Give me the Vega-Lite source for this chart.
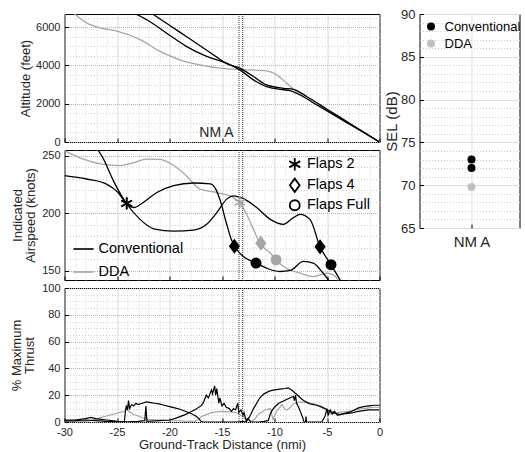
{
  "$schema": "https://vega.github.io/schema/vega-lite/v6.json",
  "padding": {"left": 9.5, "top": 1, "right": 0, "bottom": 3},
  "config": {
    "font": "Liberation Sans",
    "view": {"stroke": "#000000", "strokeWidth": 1},
    "axis": {"labelFont": "Liberation Sans", "labelFontSize": 11, "labelColor": "#262626", "titleFont": "Liberation Sans", "titleColor": "#262626", "titleFontSize": 13, "titleFontWeight": "normal", "titleLineHeight": 13, "domain": false, "tickColor": "#000000", "tickSize": -4, "labelPadding": 8.5, "labelFlush": false},
    "legend": {"padding": 0, "labelFont": "Liberation Sans", "labelColor": "#000000"}
  },
  "datasets": {
    "alt": [
      {"series": "DDA", "run": "D1", "dist": -30, "value": 7120},
      {"series": "DDA", "run": "D1", "dist": -29.63, "value": 6963},
      {"series": "DDA", "run": "D1", "dist": -27.9, "value": 6227},
      {"series": "DDA", "run": "D1", "dist": -26.6, "value": 5964},
      {"series": "DDA", "run": "D1", "dist": -25.0, "value": 5789},
      {"series": "DDA", "run": "D1", "dist": -22.8, "value": 5350},
      {"series": "DDA", "run": "D1", "dist": -20.9, "value": 4736},
      {"series": "DDA", "run": "D1", "dist": -19.0, "value": 4298},
      {"series": "DDA", "run": "D1", "dist": -17.1, "value": 4034},
      {"series": "DDA", "run": "D1", "dist": -15.2, "value": 3859},
      {"series": "DDA", "run": "D1", "dist": -13.9, "value": 3806},
      {"series": "DDA", "run": "D1", "dist": -12.65, "value": 3771},
      {"series": "DDA", "run": "D1", "dist": -10.75, "value": 3719},
      {"series": "DDA", "run": "D1", "dist": -9.79, "value": 3508},
      {"series": "DDA", "run": "D1", "dist": -8.84, "value": 3070},
      {"series": "DDA", "run": "D1", "dist": -7.9, "value": 2631},
      {"series": "DDA", "run": "D1", "dist": -6, "value": 1998},
      {"series": "DDA", "run": "D1", "dist": -4, "value": 1332},
      {"series": "DDA", "run": "D1", "dist": -2, "value": 666},
      {"series": "DDA", "run": "D1", "dist": 0, "value": 0},
      {"series": "Conventional", "run": "C1", "dist": -28, "value": 7250},
      {"series": "Conventional", "run": "C1", "dist": -26.6, "value": 7016},
      {"series": "Conventional", "run": "C1", "dist": -25.0, "value": 6841},
      {"series": "Conventional", "run": "C1", "dist": -23.4, "value": 6718},
      {"series": "Conventional", "run": "C1", "dist": -22.2, "value": 6402},
      {"series": "Conventional", "run": "C1", "dist": -20.3, "value": 5701},
      {"series": "Conventional", "run": "C1", "dist": -18.4, "value": 5000},
      {"series": "Conventional", "run": "C1", "dist": -16.46, "value": 4473},
      {"series": "Conventional", "run": "C1", "dist": -14.55, "value": 4122},
      {"series": "Conventional", "run": "C1", "dist": -13.3, "value": 3771},
      {"series": "Conventional", "run": "C1", "dist": -12.0, "value": 3245},
      {"series": "Conventional", "run": "C1", "dist": -10.75, "value": 2894},
      {"series": "Conventional", "run": "C1", "dist": -9.47, "value": 2754},
      {"series": "Conventional", "run": "C1", "dist": -8.5, "value": 2684},
      {"series": "Conventional", "run": "C1", "dist": -7.57, "value": 2456},
      {"series": "Conventional", "run": "C1", "dist": -6, "value": 1950},
      {"series": "Conventional", "run": "C1", "dist": -4, "value": 1300},
      {"series": "Conventional", "run": "C1", "dist": -2, "value": 650},
      {"series": "Conventional", "run": "C1", "dist": 0, "value": 0},
      {"series": "Conventional", "run": "C2", "dist": -23, "value": 7200},
      {"series": "Conventional", "run": "C2", "dist": -22.5, "value": 7016},
      {"series": "Conventional", "run": "C2", "dist": -20, "value": 6100},
      {"series": "Conventional", "run": "C2", "dist": -18, "value": 5370},
      {"series": "Conventional", "run": "C2", "dist": -16, "value": 4630},
      {"series": "Conventional", "run": "C2", "dist": -14.55, "value": 4090},
      {"series": "Conventional", "run": "C2", "dist": -13.3, "value": 3860},
      {"series": "Conventional", "run": "C2", "dist": -12.0, "value": 3420},
      {"series": "Conventional", "run": "C2", "dist": -10.75, "value": 2982},
      {"series": "Conventional", "run": "C2", "dist": -9.15, "value": 2807},
      {"series": "Conventional", "run": "C2", "dist": -8.2, "value": 2754},
      {"series": "Conventional", "run": "C2", "dist": -6.9, "value": 2368},
      {"series": "Conventional", "run": "C2", "dist": -5, "value": 1715},
      {"series": "Conventional", "run": "C2", "dist": -3, "value": 1030},
      {"series": "Conventional", "run": "C2", "dist": -1.5, "value": 515},
      {"series": "Conventional", "run": "C2", "dist": 0, "value": 0}
    ],
    "ias": [
      {"series": "DDA", "run": "D1", "dist": -30, "value": 254.5},
      {"series": "DDA", "run": "D1", "dist": -28.2, "value": 247},
      {"series": "DDA", "run": "D1", "dist": -26.6, "value": 243},
      {"series": "DDA", "run": "D1", "dist": -24.7, "value": 241.5},
      {"series": "DDA", "run": "D1", "dist": -23.4, "value": 244},
      {"series": "DDA", "run": "D1", "dist": -22.2, "value": 247},
      {"series": "DDA", "run": "D1", "dist": -20.9, "value": 246.8},
      {"series": "DDA", "run": "D1", "dist": -19.6, "value": 241.5},
      {"series": "DDA", "run": "D1", "dist": -18.4, "value": 232.7},
      {"series": "DDA", "run": "D1", "dist": -17.1, "value": 221},
      {"series": "DDA", "run": "D1", "dist": -15.5, "value": 218},
      {"series": "DDA", "run": "D1", "dist": -13.9, "value": 213.7},
      {"series": "DDA", "run": "D1", "dist": -13.3, "value": 209},
      {"series": "DDA", "run": "D1", "dist": -12.65, "value": 199},
      {"series": "DDA", "run": "D1", "dist": -12.0, "value": 186},
      {"series": "DDA", "run": "D1", "dist": -11.4, "value": 174},
      {"series": "DDA", "run": "D1", "dist": -10.4, "value": 165.5},
      {"series": "DDA", "run": "D1", "dist": -9.8, "value": 159},
      {"series": "DDA", "run": "D1", "dist": -8.84, "value": 152},
      {"series": "DDA", "run": "D1", "dist": -7.57, "value": 148},
      {"series": "DDA", "run": "D1", "dist": -6.3, "value": 145},
      {"series": "DDA", "run": "D1", "dist": -5.03, "value": 148},
      {"series": "DDA", "run": "D1", "dist": -4.4, "value": 146.5},
      {"series": "DDA", "run": "D1", "dist": -3.92, "value": 142},
      {"series": "DDA", "run": "D1", "dist": -3.7, "value": 138},
      {"series": "Conventional", "run": "C1", "dist": -30, "value": 232.7},
      {"series": "Conventional", "run": "C1", "dist": -27.9, "value": 229.8},
      {"series": "Conventional", "run": "C1", "dist": -26.0, "value": 225.4},
      {"series": "Conventional", "run": "C1", "dist": -24.9, "value": 218.1},
      {"series": "Conventional", "run": "C1", "dist": -24.1, "value": 208.5},
      {"series": "Conventional", "run": "C1", "dist": -23.4, "value": 205},
      {"series": "Conventional", "run": "C1", "dist": -22.5, "value": 209.4},
      {"series": "Conventional", "run": "C1", "dist": -21.2, "value": 218.1},
      {"series": "Conventional", "run": "C1", "dist": -19.6, "value": 224},
      {"series": "Conventional", "run": "C1", "dist": -17.7, "value": 226.3},
      {"series": "Conventional", "run": "C1", "dist": -16.1, "value": 225.5},
      {"series": "Conventional", "run": "C1", "dist": -15.6, "value": 221},
      {"series": "Conventional", "run": "C1", "dist": -15.2, "value": 212},
      {"series": "Conventional", "run": "C1", "dist": -14.6, "value": 192},
      {"series": "Conventional", "run": "C1", "dist": -14.1, "value": 177},
      {"series": "Conventional", "run": "C1", "dist": -13.8, "value": 171.3},
      {"series": "Conventional", "run": "C1", "dist": -13.0, "value": 162.6},
      {"series": "Conventional", "run": "C1", "dist": -11.76, "value": 156.7},
      {"series": "Conventional", "run": "C1", "dist": -10.75, "value": 152.3},
      {"series": "Conventional", "run": "C1", "dist": -9.5, "value": 149.4},
      {"series": "Conventional", "run": "C1", "dist": -8.5, "value": 150.3},
      {"series": "Conventional", "run": "C1", "dist": -7.25, "value": 158.2},
      {"series": "Conventional", "run": "C1", "dist": -6.3, "value": 156.7},
      {"series": "Conventional", "run": "C1", "dist": -5.5, "value": 149.4},
      {"series": "Conventional", "run": "C1", "dist": -4.87, "value": 142.1},
      {"series": "Conventional", "run": "C1", "dist": -4.5, "value": 137},
      {"series": "Conventional", "run": "C2", "dist": -27.5, "value": 265},
      {"series": "Conventional", "run": "C2", "dist": -27.1, "value": 259},
      {"series": "Conventional", "run": "C2", "dist": -26.3, "value": 247.4},
      {"series": "Conventional", "run": "C2", "dist": -25.35, "value": 228.4},
      {"series": "Conventional", "run": "C2", "dist": -24.1, "value": 208.5},
      {"series": "Conventional", "run": "C2", "dist": -22.8, "value": 194.7},
      {"series": "Conventional", "run": "C2", "dist": -21.5, "value": 186.5},
      {"series": "Conventional", "run": "C2", "dist": -19.6, "value": 184.5},
      {"series": "Conventional", "run": "C2", "dist": -17.7, "value": 185.4},
      {"series": "Conventional", "run": "C2", "dist": -16.46, "value": 190.4},
      {"series": "Conventional", "run": "C2", "dist": -15.5, "value": 200.6},
      {"series": "Conventional", "run": "C2", "dist": -14.55, "value": 212.3},
      {"series": "Conventional", "run": "C2", "dist": -13.9, "value": 215.2},
      {"series": "Conventional", "run": "C2", "dist": -13.0, "value": 212.9},
      {"series": "Conventional", "run": "C2", "dist": -11.7, "value": 205},
      {"series": "Conventional", "run": "C2", "dist": -10.4, "value": 194.7},
      {"series": "Conventional", "run": "C2", "dist": -9.15, "value": 190.4},
      {"series": "Conventional", "run": "C2", "dist": -8.2, "value": 196.2},
      {"series": "Conventional", "run": "C2", "dist": -7.57, "value": 199.1},
      {"series": "Conventional", "run": "C2", "dist": -6.62, "value": 194.7},
      {"series": "Conventional", "run": "C2", "dist": -5.66, "value": 170.8},
      {"series": "Conventional", "run": "C2", "dist": -4.62, "value": 155.3},
      {"series": "Conventional", "run": "C2", "dist": -3.76, "value": 142.1},
      {"series": "Conventional", "run": "C2", "dist": -3.4, "value": 136}
    ],
    "flaps": [
      {"series": "Conventional", "flap": "Flaps 2", "dist": -24.1, "value": 208.5},
      {"series": "Conventional", "flap": "Flaps 2", "dist": -24.05, "value": 208.7},
      {"series": "Conventional", "flap": "Flaps 4", "dist": -13.82, "value": 171.3},
      {"series": "Conventional", "flap": "Flaps 4", "dist": -5.66, "value": 170.8},
      {"series": "Conventional", "flap": "Flaps Full", "dist": -11.76, "value": 156.7},
      {"series": "Conventional", "flap": "Flaps Full", "dist": -4.62, "value": 155.3},
      {"series": "DDA", "flap": "Flaps 2", "dist": -13.3, "value": 209.5},
      {"series": "DDA", "flap": "Flaps 4", "dist": -11.3, "value": 174},
      {"series": "DDA", "flap": "Flaps Full", "dist": -9.85, "value": 159.6}
    ],
    "thr": [
      {"series": "DDA", "run": "D1", "dist": -30, "value": 0.5},
      {"series": "DDA", "run": "D1", "dist": -28, "value": 0.5},
      {"series": "DDA", "run": "D1", "dist": -27.5, "value": 1},
      {"series": "DDA", "run": "D1", "dist": -27, "value": 2},
      {"series": "DDA", "run": "D1", "dist": -26.5, "value": 3.5},
      {"series": "DDA", "run": "D1", "dist": -26, "value": 4.5},
      {"series": "DDA", "run": "D1", "dist": -25.5, "value": 5.5},
      {"series": "DDA", "run": "D1", "dist": -25, "value": 6.5},
      {"series": "DDA", "run": "D1", "dist": -24.5, "value": 7.5},
      {"series": "DDA", "run": "D1", "dist": -24.2, "value": 8.5},
      {"series": "DDA", "run": "D1", "dist": -24.1, "value": 13},
      {"series": "DDA", "run": "D1", "dist": -24.0, "value": 8.5},
      {"series": "DDA", "run": "D1", "dist": -23.5, "value": 6},
      {"series": "DDA", "run": "D1", "dist": -23, "value": 4.5},
      {"series": "DDA", "run": "D1", "dist": -22.5, "value": 3},
      {"series": "DDA", "run": "D1", "dist": -22, "value": 2},
      {"series": "DDA", "run": "D1", "dist": -21, "value": 1.5},
      {"series": "DDA", "run": "D1", "dist": -20, "value": 1},
      {"series": "DDA", "run": "D1", "dist": -19, "value": 0.8},
      {"series": "DDA", "run": "D1", "dist": -18, "value": 0.5},
      {"series": "DDA", "run": "D1", "dist": -17.6, "value": 0.5},
      {"series": "DDA", "run": "D1", "dist": -17.2, "value": 2},
      {"series": "DDA", "run": "D1", "dist": -17.0, "value": 4},
      {"series": "DDA", "run": "D1", "dist": -16.5, "value": 5.5},
      {"series": "DDA", "run": "D1", "dist": -16.0, "value": 7},
      {"series": "DDA", "run": "D1", "dist": -15.5, "value": 7.5},
      {"series": "DDA", "run": "D1", "dist": -15.0, "value": 8},
      {"series": "DDA", "run": "D1", "dist": -14.5, "value": 7.5},
      {"series": "DDA", "run": "D1", "dist": -14.0, "value": 7.5},
      {"series": "DDA", "run": "D1", "dist": -13.5, "value": 6.5},
      {"series": "DDA", "run": "D1", "dist": -13.0, "value": 4},
      {"series": "DDA", "run": "D1", "dist": -12.6, "value": 2},
      {"series": "DDA", "run": "D1", "dist": -12.2, "value": 0.5},
      {"series": "DDA", "run": "D1", "dist": -11.9, "value": 2},
      {"series": "DDA", "run": "D1", "dist": -11.5, "value": 6},
      {"series": "DDA", "run": "D1", "dist": -10.9, "value": 9},
      {"series": "DDA", "run": "D1", "dist": -10.4, "value": 10},
      {"series": "DDA", "run": "D1", "dist": -10.15, "value": 2},
      {"series": "DDA", "run": "D1", "dist": -9.8, "value": 8},
      {"series": "DDA", "run": "D1", "dist": -9.5, "value": 11},
      {"series": "DDA", "run": "D1", "dist": -9.3, "value": 13},
      {"series": "DDA", "run": "D1", "dist": -9.0, "value": 9.5},
      {"series": "DDA", "run": "D1", "dist": -8.8, "value": 9},
      {"series": "DDA", "run": "D1", "dist": -8.5, "value": 11},
      {"series": "DDA", "run": "D1", "dist": -8.2, "value": 13.5},
      {"series": "DDA", "run": "D1", "dist": -7.6, "value": 15},
      {"series": "DDA", "run": "D1", "dist": -7.0, "value": 14.5},
      {"series": "DDA", "run": "D1", "dist": -6.3, "value": 13.8},
      {"series": "DDA", "run": "D1", "dist": -5.7, "value": 12},
      {"series": "DDA", "run": "D1", "dist": -5.3, "value": 10.5},
      {"series": "DDA", "run": "D1", "dist": -5.0, "value": 8.8},
      {"series": "DDA", "run": "D1", "dist": -4.8, "value": 6},
      {"series": "DDA", "run": "D1", "dist": -4.4, "value": 6},
      {"series": "DDA", "run": "D1", "dist": -4.0, "value": 7},
      {"series": "DDA", "run": "D1", "dist": -3.5, "value": 7.5},
      {"series": "DDA", "run": "D1", "dist": -3.0, "value": 8},
      {"series": "DDA", "run": "D1", "dist": -2.5, "value": 8.5},
      {"series": "DDA", "run": "D1", "dist": -2.0, "value": 9.5},
      {"series": "DDA", "run": "D1", "dist": -1.5, "value": 10},
      {"series": "DDA", "run": "D1", "dist": -1.0, "value": 10.5},
      {"series": "DDA", "run": "D1", "dist": -0.5, "value": 11},
      {"series": "DDA", "run": "D1", "dist": 0, "value": 11},
      {"series": "Conventional", "run": "C1", "dist": -30, "value": 0.8},
      {"series": "Conventional", "run": "C1", "dist": -29, "value": 1},
      {"series": "Conventional", "run": "C1", "dist": -28, "value": 1.5},
      {"series": "Conventional", "run": "C1", "dist": -27, "value": 1},
      {"series": "Conventional", "run": "C1", "dist": -26, "value": 0.5},
      {"series": "Conventional", "run": "C1", "dist": -25, "value": 0.3},
      {"series": "Conventional", "run": "C1", "dist": -24.3, "value": 0.2},
      {"series": "Conventional", "run": "C1", "dist": -24.2, "value": 8},
      {"series": "Conventional", "run": "C1", "dist": -24.1, "value": 12},
      {"series": "Conventional", "run": "C1", "dist": -24.0, "value": 9},
      {"series": "Conventional", "run": "C1", "dist": -23.9, "value": 16},
      {"series": "Conventional", "run": "C1", "dist": -23.8, "value": 10},
      {"series": "Conventional", "run": "C1", "dist": -23.6, "value": 13},
      {"series": "Conventional", "run": "C1", "dist": -23.4, "value": 12},
      {"series": "Conventional", "run": "C1", "dist": -23.2, "value": 14},
      {"series": "Conventional", "run": "C1", "dist": -23.0, "value": 13},
      {"series": "Conventional", "run": "C1", "dist": -22.6, "value": 14},
      {"series": "Conventional", "run": "C1", "dist": -22.2, "value": 15},
      {"series": "Conventional", "run": "C1", "dist": -21.8, "value": 14.5},
      {"series": "Conventional", "run": "C1", "dist": -21.4, "value": 14},
      {"series": "Conventional", "run": "C1", "dist": -21.0, "value": 13.5},
      {"series": "Conventional", "run": "C1", "dist": -20.5, "value": 12.5},
      {"series": "Conventional", "run": "C1", "dist": -20.0, "value": 11.5},
      {"series": "Conventional", "run": "C1", "dist": -19.5, "value": 10.5},
      {"series": "Conventional", "run": "C1", "dist": -19.0, "value": 9.5},
      {"series": "Conventional", "run": "C1", "dist": -18.5, "value": 8},
      {"series": "Conventional", "run": "C1", "dist": -18.0, "value": 6.5},
      {"series": "Conventional", "run": "C1", "dist": -17.5, "value": 4.5},
      {"series": "Conventional", "run": "C1", "dist": -17.2, "value": 2.5},
      {"series": "Conventional", "run": "C1", "dist": -17.0, "value": 0.5},
      {"series": "Conventional", "run": "C1", "dist": -16.8, "value": 0},
      {"series": "Conventional", "run": "C1", "dist": -13.5, "value": 0},
      {"series": "Conventional", "run": "C1", "dist": -13.0, "value": 0.5},
      {"series": "Conventional", "run": "C1", "dist": -12.8, "value": 0},
      {"series": "Conventional", "run": "C1", "dist": -12.6, "value": 1},
      {"series": "Conventional", "run": "C1", "dist": -12.3, "value": 5},
      {"series": "Conventional", "run": "C1", "dist": -12.0, "value": 10},
      {"series": "Conventional", "run": "C1", "dist": -11.7, "value": 14},
      {"series": "Conventional", "run": "C1", "dist": -11.4, "value": 18},
      {"series": "Conventional", "run": "C1", "dist": -11.0, "value": 21},
      {"series": "Conventional", "run": "C1", "dist": -10.5, "value": 23},
      {"series": "Conventional", "run": "C1", "dist": -10.0, "value": 24},
      {"series": "Conventional", "run": "C1", "dist": -9.5, "value": 24.5},
      {"series": "Conventional", "run": "C1", "dist": -9.0, "value": 25},
      {"series": "Conventional", "run": "C1", "dist": -8.7, "value": 25.5},
      {"series": "Conventional", "run": "C1", "dist": -8.4, "value": 24},
      {"series": "Conventional", "run": "C1", "dist": -8.1, "value": 22},
      {"series": "Conventional", "run": "C1", "dist": -7.8, "value": 20},
      {"series": "Conventional", "run": "C1", "dist": -7.4, "value": 17},
      {"series": "Conventional", "run": "C1", "dist": -7.0, "value": 15},
      {"series": "Conventional", "run": "C1", "dist": -6.6, "value": 13.5},
      {"series": "Conventional", "run": "C1", "dist": -6.0, "value": 12.5},
      {"series": "Conventional", "run": "C1", "dist": -5.6, "value": 11.5},
      {"series": "Conventional", "run": "C1", "dist": -5.2, "value": 10},
      {"series": "Conventional", "run": "C1", "dist": -4.8, "value": 8},
      {"series": "Conventional", "run": "C1", "dist": -4.4, "value": 7},
      {"series": "Conventional", "run": "C1", "dist": -4.0, "value": 6},
      {"series": "Conventional", "run": "C1", "dist": -3.7, "value": 5.5},
      {"series": "Conventional", "run": "C1", "dist": -3.3, "value": 6.5},
      {"series": "Conventional", "run": "C1", "dist": -2.8, "value": 7.5},
      {"series": "Conventional", "run": "C1", "dist": -2.4, "value": 9},
      {"series": "Conventional", "run": "C1", "dist": -2.0, "value": 10.5},
      {"series": "Conventional", "run": "C1", "dist": -1.5, "value": 11.5},
      {"series": "Conventional", "run": "C1", "dist": -1.0, "value": 12},
      {"series": "Conventional", "run": "C1", "dist": -0.5, "value": 12.5},
      {"series": "Conventional", "run": "C1", "dist": 0, "value": 12.5},
      {"series": "Conventional", "run": "C2", "dist": -30, "value": 1.5},
      {"series": "Conventional", "run": "C2", "dist": -29, "value": 1.5},
      {"series": "Conventional", "run": "C2", "dist": -28, "value": 2.5},
      {"series": "Conventional", "run": "C2", "dist": -27.5, "value": 3.5},
      {"series": "Conventional", "run": "C2", "dist": -27, "value": 2.5},
      {"series": "Conventional", "run": "C2", "dist": -26.5, "value": 2},
      {"series": "Conventional", "run": "C2", "dist": -26, "value": 1.5},
      {"series": "Conventional", "run": "C2", "dist": -25.5, "value": 1},
      {"series": "Conventional", "run": "C2", "dist": -25, "value": 0.5},
      {"series": "Conventional", "run": "C2", "dist": -24, "value": 0.2},
      {"series": "Conventional", "run": "C2", "dist": -23, "value": 0.5},
      {"series": "Conventional", "run": "C2", "dist": -22.35, "value": 1},
      {"series": "Conventional", "run": "C2", "dist": -22.25, "value": 12},
      {"series": "Conventional", "run": "C2", "dist": -22.15, "value": 0.5},
      {"series": "Conventional", "run": "C2", "dist": -21, "value": 1},
      {"series": "Conventional", "run": "C2", "dist": -20, "value": 1.5},
      {"series": "Conventional", "run": "C2", "dist": -19.5, "value": 2.5},
      {"series": "Conventional", "run": "C2", "dist": -19, "value": 4},
      {"series": "Conventional", "run": "C2", "dist": -18.5, "value": 5.5},
      {"series": "Conventional", "run": "C2", "dist": -18, "value": 7.5},
      {"series": "Conventional", "run": "C2", "dist": -17.5, "value": 9.5},
      {"series": "Conventional", "run": "C2", "dist": -17, "value": 12},
      {"series": "Conventional", "run": "C2", "dist": -16.8, "value": 14},
      {"series": "Conventional", "run": "C2", "dist": -16.5, "value": 20},
      {"series": "Conventional", "run": "C2", "dist": -16.3, "value": 18},
      {"series": "Conventional", "run": "C2", "dist": -16.0, "value": 24},
      {"series": "Conventional", "run": "C2", "dist": -15.9, "value": 21},
      {"series": "Conventional", "run": "C2", "dist": -15.7, "value": 27},
      {"series": "Conventional", "run": "C2", "dist": -15.6, "value": 20},
      {"series": "Conventional", "run": "C2", "dist": -15.5, "value": 25},
      {"series": "Conventional", "run": "C2", "dist": -15.3, "value": 14},
      {"series": "Conventional", "run": "C2", "dist": -15.2, "value": 18},
      {"series": "Conventional", "run": "C2", "dist": -15.0, "value": 12},
      {"series": "Conventional", "run": "C2", "dist": -14.8, "value": 14},
      {"series": "Conventional", "run": "C2", "dist": -14.6, "value": 11},
      {"series": "Conventional", "run": "C2", "dist": -14.3, "value": 10},
      {"series": "Conventional", "run": "C2", "dist": -14.1, "value": 8},
      {"series": "Conventional", "run": "C2", "dist": -13.9, "value": 10},
      {"series": "Conventional", "run": "C2", "dist": -13.7, "value": 9},
      {"series": "Conventional", "run": "C2", "dist": -13.5, "value": 14},
      {"series": "Conventional", "run": "C2", "dist": -13.4, "value": 7},
      {"series": "Conventional", "run": "C2", "dist": -13.2, "value": 9},
      {"series": "Conventional", "run": "C2", "dist": -13.0, "value": 5},
      {"series": "Conventional", "run": "C2", "dist": -12.9, "value": 7},
      {"series": "Conventional", "run": "C2", "dist": -12.7, "value": 1},
      {"series": "Conventional", "run": "C2", "dist": -12.5, "value": 3},
      {"series": "Conventional", "run": "C2", "dist": -12.3, "value": 0},
      {"series": "Conventional", "run": "C2", "dist": -11.5, "value": 0},
      {"series": "Conventional", "run": "C2", "dist": -11, "value": 0.5},
      {"series": "Conventional", "run": "C2", "dist": -10.6, "value": 1},
      {"series": "Conventional", "run": "C2", "dist": -10.4, "value": 6},
      {"series": "Conventional", "run": "C2", "dist": -10.2, "value": 9},
      {"series": "Conventional", "run": "C2", "dist": -10.0, "value": 11},
      {"series": "Conventional", "run": "C2", "dist": -9.6, "value": 14},
      {"series": "Conventional", "run": "C2", "dist": -9.2, "value": 15.5},
      {"series": "Conventional", "run": "C2", "dist": -8.8, "value": 17},
      {"series": "Conventional", "run": "C2", "dist": -8.4, "value": 18.5},
      {"series": "Conventional", "run": "C2", "dist": -8.2, "value": 19},
      {"series": "Conventional", "run": "C2", "dist": -8.1, "value": 16},
      {"series": "Conventional", "run": "C2", "dist": -8.0, "value": 20},
      {"series": "Conventional", "run": "C2", "dist": -7.9, "value": 14},
      {"series": "Conventional", "run": "C2", "dist": -7.7, "value": 11},
      {"series": "Conventional", "run": "C2", "dist": -7.5, "value": 7},
      {"series": "Conventional", "run": "C2", "dist": -7.3, "value": 3},
      {"series": "Conventional", "run": "C2", "dist": -7.2, "value": 0},
      {"series": "Conventional", "run": "C2", "dist": -7.05, "value": 0},
      {"series": "Conventional", "run": "C2", "dist": -7.0, "value": 4},
      {"series": "Conventional", "run": "C2", "dist": -6.95, "value": 0},
      {"series": "Conventional", "run": "C2", "dist": -5.5, "value": 0},
      {"series": "Conventional", "run": "C2", "dist": -5.2, "value": 4},
      {"series": "Conventional", "run": "C2", "dist": -5.0, "value": 10},
      {"series": "Conventional", "run": "C2", "dist": -4.9, "value": 5},
      {"series": "Conventional", "run": "C2", "dist": -4.7, "value": 9},
      {"series": "Conventional", "run": "C2", "dist": -4.5, "value": 6},
      {"series": "Conventional", "run": "C2", "dist": -4.3, "value": 8},
      {"series": "Conventional", "run": "C2", "dist": -4.0, "value": 5},
      {"series": "Conventional", "run": "C2", "dist": -3.5, "value": 6},
      {"series": "Conventional", "run": "C2", "dist": -3.0, "value": 6.5},
      {"series": "Conventional", "run": "C2", "dist": -2.5, "value": 7},
      {"series": "Conventional", "run": "C2", "dist": -2.0, "value": 8},
      {"series": "Conventional", "run": "C2", "dist": -1.5, "value": 8.5},
      {"series": "Conventional", "run": "C2", "dist": -1.0, "value": 9},
      {"series": "Conventional", "run": "C2", "dist": -0.5, "value": 9},
      {"series": "Conventional", "run": "C2", "dist": 0, "value": 9}
    ],
    "nm": [{"dist": -13.38}, {"dist": -13.03}],
    "nmlabel": [{"dist": -13.9, "value": 260, "label": "NM A"}],
    "sel": [
      {"site": "NM A", "series": "Conventional", "sel": 73},
      {"site": "NM A", "series": "Conventional", "sel": 72},
      {"site": "NM A", "series": "DDA", "sel": 69.8}
    ]
  },
  "spacing": 0,
  "columns": 2,
  "align": "none",
  "bounds": "full",
  "resolve": {"scale": {"color": "independent", "shape": "independent", "fill": "independent", "stroke": "independent"}},
  "concat": [
    {
      "vconcat": [
        {
          "width": 315, "height": 128,
          "resolve": {"axis": {"x": "independent", "y": "independent"}},
          "layer": [
            {
              "data": {"name": "alt"},
              "transform": [{"filter": "datum.series === 'DDA'"}],
              "mark": {"type": "line", "interpolate": "monotone", "strokeWidth": 1.3, "clip": true},
              "encoding": {
                "x": {"field": "dist", "type": "quantitative", "scale": {"domain": [-30, 0], "nice": false},
                  "axis": {"orient": "bottom", "values": [-30,-25,-20,-15,-10,-5,0], "labels": false, "title": null, "grid": true, "gridDash": [1, 1], "gridColor": "#b5b5b5"}},
                "y": {"field": "value", "type": "quantitative", "scale": {"domain": [0, 6690], "nice": false},
                  "axis": {"orient": "left", "values": [0, 2000, 4000, 6000], "title": "Altitude (feet)", "titlePadding": 3, "grid": true, "gridDash": [1, 1], "gridColor": "#b5b5b5", "labelExpr": "'' + datum.value"}},
                "detail": {"field": "run"},
                "color": {"field": "series", "type": "nominal", "scale": {"domain": ["Conventional", "DDA"], "range": ["#000000", "#a6a6a6"]}, "legend": null}
              }
            },
            {
              "data": {"name": "alt"},
              "transform": [{"filter": "datum.series === 'Conventional'"}],
              "mark": {"type": "line", "interpolate": "monotone", "strokeWidth": 1.3, "clip": true},
              "encoding": {
                "x": {"field": "dist", "type": "quantitative",
                  "axis": {"orient": "top", "values": [-29,-28,-27,-26,-24,-23,-22,-21,-19,-18,-17,-16,-14,-13,-12,-11,-9,-8,-7,-6,-4,-3,-2,-1], "labels": false, "ticks": false, "title": null, "grid": true, "gridDash": [1, 2], "gridColor": "#cfcfcf", "labelPadding": 0, "tickSize": 0}},
                "y": {"field": "value", "type": "quantitative",
                  "axis": {"orient": "right", "values": [500,1000,1500,2500,3000,3500,4500,5000,5500,6500], "labels": false, "ticks": false, "title": null, "grid": true, "gridDash": [1, 2], "gridColor": "#cfcfcf", "labelPadding": 0, "tickSize": 0}},
                "detail": {"field": "run"},
                "color": {"field": "series", "type": "nominal", "scale": {"domain": ["Conventional", "DDA"], "range": ["#000000", "#a6a6a6"]}, "legend": null}
              }
            },
            {
              "data": {"name": "nm"},
              "mark": {"type": "rule", "strokeDash": [1, 1], "color": "#333333", "strokeWidth": 1},
              "encoding": {"x": {"field": "dist", "type": "quantitative", "axis": null}}
            },
            {
              "data": {"name": "nmlabel"},
              "mark": {"type": "text", "align": "right", "baseline": "alphabetic", "fontSize": 14, "color": "#262626", "font": "Liberation Sans"},
              "encoding": {
                "x": {"field": "dist", "type": "quantitative", "axis": null},
                "y": {"field": "value", "type": "quantitative", "axis": null},
                "text": {"field": "label"}
              }
            }
          ]
        },
        {
          "width": 315, "height": 130,
          "resolve": {"axis": {"x": "independent", "y": "independent"}},
          "layer": [
            {
              "data": {"name": "ias"},
              "transform": [{"filter": "datum.series === 'DDA'"}],
              "mark": {"type": "line", "interpolate": "monotone", "strokeWidth": 1.3, "clip": true},
              "encoding": {
                "x": {"field": "dist", "type": "quantitative", "scale": {"domain": [-30, 0], "nice": false},
                  "axis": {"orient": "bottom", "values": [-30,-25,-20,-15,-10,-5,0], "labels": false, "title": null, "grid": true, "gridDash": [1, 1], "gridColor": "#b5b5b5"}},
                "y": {"field": "value", "type": "quantitative", "scale": {"domain": [142, 255], "nice": false, "zero": false},
                  "axis": {"orient": "left", "values": [150, 200, 250], "title": ["Indicated", "Airspeed (knots)"], "titlePadding": 4, "grid": true, "gridDash": [1, 1], "gridColor": "#b5b5b5", "labelExpr": "'' + datum.value"}},
                "detail": {"field": "run"},
                "color": {"field": "series", "type": "nominal", "scale": {"domain": ["Conventional", "DDA"], "range": ["#000000", "#a6a6a6"]},
                  "legend": {"orient": "none", "legendX": 8, "legendY": 88, "title": null, "symbolType": "stroke", "symbolSize": 400, "symbolStrokeWidth": 1.6, "labelFontSize": 14.5, "labelOffset": 4, "rowPadding": 5}}
              }
            },
            {
              "data": {"name": "ias"},
              "transform": [{"filter": "datum.series === 'Conventional'"}],
              "mark": {"type": "line", "interpolate": "monotone", "strokeWidth": 1.3, "clip": true},
              "encoding": {
                "x": {"field": "dist", "type": "quantitative",
                  "axis": {"orient": "top", "values": [-29,-28,-27,-26,-24,-23,-22,-21,-19,-18,-17,-16,-14,-13,-12,-11,-9,-8,-7,-6,-4,-3,-2,-1], "labels": false, "ticks": false, "title": null, "grid": true, "gridDash": [1, 2], "gridColor": "#cfcfcf", "labelPadding": 0, "tickSize": 0}},
                "y": {"field": "value", "type": "quantitative",
                  "axis": {"orient": "right", "values": [160,170,180,190,210,220,230,240], "labels": false, "ticks": false, "title": null, "grid": true, "gridDash": [1, 2], "gridColor": "#cfcfcf", "labelPadding": 0, "tickSize": 0}},
                "detail": {"field": "run"},
                "color": {"field": "series", "type": "nominal", "scale": {"domain": ["Conventional", "DDA"], "range": ["#000000", "#a6a6a6"]},
                  "legend": {"orient": "none", "legendX": 8, "legendY": 88, "title": null, "symbolType": "stroke", "symbolSize": 400, "symbolStrokeWidth": 1.6, "labelFontSize": 14.5, "labelOffset": 4, "rowPadding": 5}}
              }
            },
            {
              "data": {"name": "nm"},
              "mark": {"type": "rule", "strokeDash": [1, 1], "color": "#333333", "strokeWidth": 1},
              "encoding": {"x": {"field": "dist", "type": "quantitative", "axis": null}}
            },
            {
              "data": {"name": "flaps"},
              "mark": {"type": "point", "filled": true, "size": 90, "strokeWidth": 1.5, "opacity": 1},
              "encoding": {
                "x": {"field": "dist", "type": "quantitative", "axis": null},
                "y": {"field": "value", "type": "quantitative", "axis": null},
                "shape": {"field": "flap", "type": "nominal",
                  "scale": {"domain": ["Flaps 2", "Flaps 4", "Flaps Full"], "range": ["M0,-1.27L0,1.27M-1.1,-0.63L1.1,0.63M-1.1,0.63L1.1,-0.63", "M0,-1.33L0.98,0L0,1.33L-0.98,0Z", "circle"]},
                  "legend": {"orient": "none", "legendX": 223, "legendY": 7, "title": null, "symbolSize": 100, "labelFontSize": 14.5, "labelOffset": 5, "rowPadding": 0,
                    "symbolFillColor": "#ffffff", "symbolStrokeColor": "#000000", "symbolStrokeWidth": 1.8, "symbolOpacity": 1}},
                "fill": {"field": "series", "type": "nominal", "scale": {"domain": ["Conventional", "DDA"], "range": ["#000000", "#a6a6a6"]}, "legend": null},
                "stroke": {"field": "series", "type": "nominal", "scale": {"domain": ["Conventional", "DDA"], "range": ["#000000", "#a6a6a6"]}, "legend": null}
              }
            }
          ]
        },
        {
          "width": 315, "height": 134,
          "resolve": {"axis": {"x": "independent", "y": "independent"}},
          "layer": [
            {
              "data": {"name": "thr"},
              "transform": [{"filter": "datum.series === 'DDA'"}],
              "mark": {"type": "line", "strokeWidth": 1.2, "clip": true},
              "encoding": {
                "x": {"field": "dist", "type": "quantitative", "scale": {"domain": [-30, 0], "nice": false},
                  "axis": {"orient": "bottom", "values": [-30,-25,-20,-15,-10,-5,0], "title": "Ground-Track Distance (nmi)", "titlePadding": 1, "grid": true, "gridDash": [1, 1], "gridColor": "#b5b5b5", "labelExpr": "'' + datum.value"}},
                "y": {"field": "value", "type": "quantitative", "scale": {"domain": [0, 100], "nice": false},
                  "axis": {"orient": "left", "values": [0, 20, 40, 60, 80, 100], "title": ["% Maximum", "Thrust"], "titlePadding": 5, "grid": true, "gridDash": [1, 1], "gridColor": "#b5b5b5", "labelExpr": "'' + datum.value"}},
                "detail": {"field": "run"},
                "color": {"field": "series", "type": "nominal", "scale": {"domain": ["Conventional", "DDA"], "range": ["#000000", "#a6a6a6"]}, "legend": null}
              }
            },
            {
              "data": {"name": "thr"},
              "transform": [{"filter": "datum.series === 'Conventional'"}],
              "mark": {"type": "line", "strokeWidth": 1.2, "clip": true},
              "encoding": {
                "x": {"field": "dist", "type": "quantitative",
                  "axis": {"orient": "top", "values": [-29,-28,-27,-26,-24,-23,-22,-21,-19,-18,-17,-16,-14,-13,-12,-11,-9,-8,-7,-6,-4,-3,-2,-1], "labels": false, "ticks": false, "title": null, "grid": true, "gridDash": [1, 2], "gridColor": "#cfcfcf", "labelPadding": 0, "tickSize": 0}},
                "y": {"field": "value", "type": "quantitative",
                  "axis": {"orient": "right", "values": [5,10,15,25,30,35,45,50,55,65,70,75,85,90,95], "labels": false, "ticks": false, "title": null, "grid": true, "gridDash": [1, 2], "gridColor": "#cfcfcf", "labelPadding": 0, "tickSize": 0}},
                "detail": {"field": "run"},
                "color": {"field": "series", "type": "nominal", "scale": {"domain": ["Conventional", "DDA"], "range": ["#000000", "#a6a6a6"]}, "legend": null}
              }
            },
            {
              "data": {"name": "nm"},
              "mark": {"type": "rule", "strokeDash": [1, 1], "color": "#333333", "strokeWidth": 1},
              "encoding": {"x": {"field": "dist", "type": "quantitative", "axis": null}}
            }
          ]
        }
      ],
      "spacing": 8,
      "bounds": "flush",
      "resolve": {"scale": {"color": "independent", "shape": "independent", "fill": "independent", "stroke": "independent"}}
    },
    {
      "width": 100, "height": 214,
      "title": {"text": " ", "fontSize": 1, "offset": 5},
      "resolve": {"axis": {"x": "independent", "y": "independent"}},
      "layer": [
        {
          "data": {"name": "sel"},
          "transform": [{"filter": "datum.series === 'Conventional'"}],
          "mark": {"type": "point", "filled": true, "size": 64, "opacity": 1},
          "encoding": {
            "x": {"field": "site", "type": "nominal", "scale": {"type": "point", "align": 0.52},
              "axis": {"orient": "bottom", "title": null, "labelAngle": 0, "labelFontSize": 15, "grid": true, "gridColor": "#dddddd", "tickSize": -4, "labelPadding": 10}},
            "y": {"field": "sel", "type": "quantitative", "scale": {"domain": [65, 90], "nice": false, "zero": false},
              "axis": {"orient": "left", "values": [65, 70, 75, 80, 85, 90], "title": "SEL (dB)", "titleFontSize": 15, "titlePadding": 1, "labelFontSize": 13, "grid": true, "gridColor": "#dddddd", "labelExpr": "'' + datum.value"}},
            "color": {"field": "series", "type": "nominal", "scale": {"domain": ["Conventional", "DDA"], "range": ["#000000", "#c0c0c0"]},
              "legend": {"orient": "none", "legendX": 5, "legendY": 6, "title": null, "symbolType": "circle", "symbolSize": 64, "labelFontSize": 13, "labelOffset": 7, "rowPadding": 3}}
          }
        },
        {
          "data": {"name": "sel"},
          "transform": [{"filter": "datum.series === 'DDA'"}],
          "mark": {"type": "point", "filled": true, "size": 64, "opacity": 1},
          "encoding": {
            "x": {"field": "site", "type": "nominal", "axis": null},
            "y": {"field": "sel", "type": "quantitative",
              "axis": {"orient": "right", "values": [66,67,68,69,71,72,73,74,76,77,78,79,81,82,83,84,86,87,88,89], "labels": false, "ticks": false, "title": null, "grid": true, "gridDash": [1, 2], "gridColor": "#cfcfcf", "labelPadding": 0, "tickSize": 0}},
            "color": {"field": "series", "type": "nominal", "scale": {"domain": ["Conventional", "DDA"], "range": ["#000000", "#c0c0c0"]},
              "legend": {"orient": "none", "legendX": 5, "legendY": 6, "title": null, "symbolType": "circle", "symbolSize": 64, "labelFontSize": 13, "labelOffset": 7, "rowPadding": 3}}
          }
        }
      ]
    }
  ]
}
